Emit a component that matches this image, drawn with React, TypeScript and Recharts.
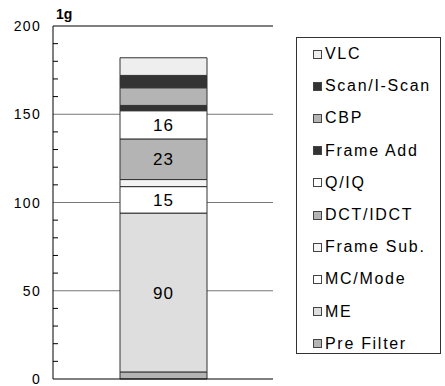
import React from 'react';
import { BarChart, Bar, XAxis, YAxis, CartesianGrid, ReferenceLine, Legend, LabelList } from 'recharts';

// stack order, bottom to top
const categories = ['Total'];
const seriesNames = ['Pre Filter', 'ME', 'MC/Mode', 'Frame Sub.', 'DCT/IDCT', 'Q/IQ', 'Frame Add', 'CBP', 'Scan/I-Scan', 'VLC'];
const seriesValues = [4, 90, 15, 4, 23, 16, 3, 10, 7, 10];
const labeledSeries = ['ME', 'MC/Mode', 'DCT/IDCT', 'Q/IQ'];
const yTicks = [0, 10, 20, 30, 40, 50, 60, 70, 80, 90, 100, 110, 120, 130, 140, 150, 160, 170, 180, 190, 200];
const gridTicks = [50, 100, 150];

const fills = ['#b4b4b4', '#dedede', '#ffffff', '#f4f4f4', '#b4b4b4', '#ffffff', '#333333', '#b4b4b4', '#333333', '#eeeeee'];

const data = categories.map((name) => {
  const row: Record<string, string | number> = { name };
  seriesNames.forEach((s, i) => {
    row[s] = seriesValues[i];
  });
  return row;
});

const font = '"Liberation Sans", Arial, sans-serif';

const YTick = (props: any) => {
  const { x, y, payload } = props;
  const v = payload.value;
  const major = v % 50 === 0;
  return (
    <g>
      {!major && <line x1={x} y1={y} x2={x + 5} y2={y} stroke="#000" />}
      {major && (
        <text x={x - 12} y={y} dy={5} textAnchor="end" fontSize={14} fontFamily={font} letterSpacing={1.3} fill="#000">
          {v}
        </text>
      )}
    </g>
  );
};

const UnitLabel = (props: any) => {
  const { viewBox } = props;
  return (
    <text x={viewBox.x + viewBox.width + 3} y={viewBox.y - 7} fontSize={14} fontWeight="bold" fontFamily={font} fill="#000">
      1g
    </text>
  );
};

const LegendBox = (props: any) => {
  // top of the stack first
  const items = [...(props.payload || [])].sort(
    (a: any, b: any) => seriesNames.indexOf(b.value) - seriesNames.indexOf(a.value)
  );
  return (
    <div
      style={{
        width: 145,
        height: 317,
        border: '1px solid #333',
        boxSizing: 'border-box',
        background: '#fff',
        fontFamily: font,
        position: 'relative',
      }}
    >
      {items.map((it: any, i: number) => (
        <div
          key={it.value}
          style={{
            position: 'absolute',
            left: 16,
            top: 16 + i * 32.2 - 9,
            height: 18,
            display: 'flex',
            alignItems: 'center',
            whiteSpace: 'nowrap',
          }}
        >
          <span
            style={{
              display: 'inline-block',
              width: 7,
              height: 7,
              border: '1px solid #444',
              background: it.color,
              marginRight: 3,
            }}
          />
          <span style={{ fontSize: 16, letterSpacing: 1.7, color: '#000' }}>{it.value}</span>
        </div>
      ))}
    </div>
  );
};

export default function App() {
  return (
    <div style={{ position: 'absolute', left: 0, top: 0, background: '#fff' }}>
      <BarChart width={445} height={386} data={data} margin={{ top: 26, right: 172, bottom: 0, left: 0 }} barSize={87}>
        <CartesianGrid vertical={false} horizontalValues={gridTicks} stroke="#777" />
        <XAxis dataKey="name" height={7} tick={false} tickLine={false} axisLine={{ stroke: '#000' }} />
        <YAxis
          domain={[0, 200]}
          ticks={yTicks}
          interval={0}
          width={53}
          tickSize={0}
          tickMargin={0}
          tickLine={false}
          axisLine={{ stroke: '#000' }}
          tick={<YTick />}
          label={<UnitLabel />}
        />
        <ReferenceLine y={200} stroke="#000" />
        <Legend
          layout="vertical"
          align="center"
          verticalAlign="middle"
          content={<LegendBox />}
          wrapperStyle={{ left: 296, top: 37, width: 145, height: 317 }}
        />
        {seriesNames.map((s, i) => (
          <Bar key={s} dataKey={s} name={s} stackId="a" fill={fills[i]} stroke="#333" strokeWidth={1} isAnimationActive={false}>
            {labeledSeries.includes(s) && (
              <LabelList dataKey={s} position="center" fill="#000" fontSize={17} fontFamily={font} letterSpacing={1} />
            )}
          </Bar>
        ))}
      </BarChart>
    </div>
  );
}
